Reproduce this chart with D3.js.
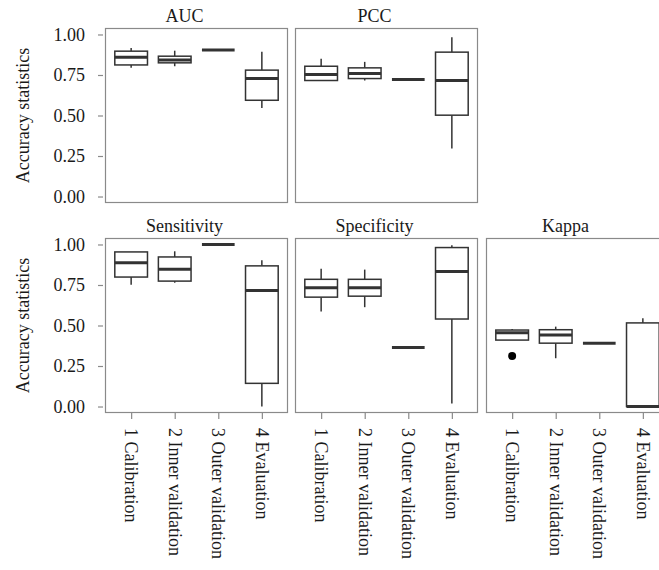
<!DOCTYPE html>
<html>
<head>
<meta charset="utf-8">
<script src="https://cdn.jsdelivr.net/npm/d3@7"></script>
<style>
  html, body { margin: 0; padding: 0; background: #fff; overflow: hidden; }
  svg { display: block; }
  text { font-family: "Liberation Serif", "Times New Roman", serif; fill: #1a1a1a; }
</style>
</head>
<body>
<svg id="chart" width="659" height="570"></svg>
<script>
// ---- data ----
const categories = ["1 Calibration", "2 Inner validation", "3 Outer validation", "4 Evaluation"];
const panelNames = ["AUC", "PCC", "Sensitivity", "Specificity", "Kappa"];
const yTicks = [0, 0.25, 0.5, 0.75, 1.0];
const yTickLabels = ["0.00", "0.25", "0.50", "0.75", "1.00"];
// each entry: [whiskerLow, q1, median, q3, whiskerHigh]
const aucStats = [[0.794, 0.812, 0.860, 0.897, 0.917], [0.804, 0.825, 0.842, 0.866, 0.900], [0.905, 0.905, 0.905, 0.905, 0.905], [0.547, 0.594, 0.728, 0.780, 0.893]];
const pccStats = [[0.716, 0.716, 0.753, 0.804, 0.850], [0.716, 0.728, 0.759, 0.794, 0.831], [0.722, 0.722, 0.722, 0.722, 0.722], [0.296, 0.502, 0.716, 0.891, 0.983]];
const sensStats = [[0.752, 0.799, 0.888, 0.954, 0.954], [0.764, 0.774, 0.847, 0.923, 0.958], [1.000, 1.000, 1.000, 1.000, 1.000], [0.000, 0.143, 0.716, 0.868, 0.903]];
const specStats = [[0.586, 0.675, 0.733, 0.785, 0.851], [0.613, 0.681, 0.733, 0.785, 0.845], [0.364, 0.364, 0.364, 0.364, 0.364], [0.019, 0.540, 0.834, 0.981, 0.996]];
const kappaStats = [[0.410, 0.410, 0.455, 0.472, 0.478], [0.298, 0.391, 0.441, 0.474, 0.493], [0.390, 0.390, 0.390, 0.390, 0.390], [0.000, 0.000, 0.000, 0.516, 0.545]];
const kappaOutliers = [[0.312], [], [], []];
const yTitle = "Accuracy statistics";

// ---- layout ----
const svg = d3.select("#chart");
const colX = [105, 295, 486];
const panelW = 183;
const rowY = [28, 238];
const panelH = 175;
const fontSize = 18;
const boxColor = "#333333";
const borderColor = "#8a8a8a";

const panels = [
  { name: panelNames[0], stats: aucStats, outliers: [[], [], [], []], col: 0, row: 0 },
  { name: panelNames[1], stats: pccStats, outliers: [[], [], [], []], col: 1, row: 0 },
  { name: panelNames[2], stats: sensStats, outliers: [[], [], [], []], col: 0, row: 1 },
  { name: panelNames[3], stats: specStats, outliers: [[], [], [], []], col: 1, row: 1 },
  { name: panelNames[4], stats: kappaStats, outliers: kappaOutliers, col: 2, row: 1 }
];

// y axis titles and tick labels for each row
rowY.forEach(top => {
  const y = d3.scaleLinear().domain([-0.04, 1.04]).range([top + panelH, top]);
  const g = svg.append("g").attr("transform", `translate(${colX[0] - 2},0)`);
  const ax = d3.axisLeft(y).tickValues(yTicks).tickFormat((d, i) => yTickLabels[i]).tickSize(5).tickPadding(13);
  g.call(ax);
  g.select(".domain").remove();
  g.selectAll(".tick line").attr("stroke", borderColor).attr("stroke-width", 1.2);
  g.selectAll(".tick text").style("font-family", '"Liberation Serif", serif').style("font-size", fontSize + "px").attr("fill", "#1a1a1a");
  svg.append("text")
    .attr("transform", `translate(29,${top + panelH / 2}) rotate(-90)`)
    .attr("text-anchor", "middle")
    .style("font-size", fontSize + "px")
    .text(yTitle);
});

panels.forEach(p => {
  const x0 = colX[p.col], top = rowY[p.row];
  const x = d3.scalePoint().domain(categories).range([x0, x0 + panelW]).padding(0.6);
  const y = d3.scaleLinear().domain([-0.04, 1.04]).range([top + panelH, top]);
  const bw = x.step() * 0.75;
  const g = svg.append("g");

  // strip title
  svg.append("text")
    .attr("x", x0 + panelW / 2 - 12)
    .attr("y", top - 6.5)
    .attr("text-anchor", "middle")
    .style("font-size", fontSize + "px")
    .text(p.name);

  categories.forEach((c, i) => {
    const s = p.stats[i];
    const cx = x(c);
    // whiskers
    g.append("line").attr("x1", cx).attr("x2", cx).attr("y1", y(s[3])).attr("y2", y(s[4]))
      .attr("stroke", boxColor).attr("stroke-width", 1.5);
    g.append("line").attr("x1", cx).attr("x2", cx).attr("y1", y(s[1])).attr("y2", y(s[0]))
      .attr("stroke", boxColor).attr("stroke-width", 1.5);
    // box
    g.append("rect").attr("x", cx - bw / 2).attr("width", bw)
      .attr("y", y(s[3])).attr("height", Math.max(0, y(s[1]) - y(s[3])))
      .attr("fill", "#fff").attr("stroke", boxColor).attr("stroke-width", 1.5);
    // median
    g.append("line").attr("x1", cx - bw / 2).attr("x2", cx + bw / 2).attr("y1", y(s[2])).attr("y2", y(s[2]))
      .attr("stroke", boxColor).attr("stroke-width", 3);
    // outliers
    p.outliers[i].forEach(v => {
      g.append("circle").attr("cx", cx).attr("cy", y(v)).attr("r", 4).attr("fill", "#000");
    });
  });

  // panel border
  svg.append("rect").attr("x", x0 + 0.5).attr("y", top + 0.5).attr("width", panelW - 1).attr("height", panelH - 1)
    .attr("fill", "none").attr("stroke", borderColor).attr("stroke-width", 1.2);

  // x axis for bottom row
  if (p.row === 1) {
    const ga = svg.append("g").attr("transform", `translate(0,${top + panelH})`);
    ga.call(d3.axisBottom(x).tickSize(6).tickPadding(9));
    ga.select(".domain").remove();
    ga.selectAll(".tick line").attr("stroke", borderColor).attr("stroke-width", 1.2);
    ga.selectAll(".tick text")
      .style("font-family", '"Liberation Serif", serif')
      .style("font-size", fontSize + "px")
      .attr("fill", "#1a1a1a")
      .attr("text-anchor", "start")
      .attr("dy", "0.35em")
      .attr("x", 0)
      .attr("y", 0)
      .attr("transform", "translate(0,15) rotate(90)");
  }
});
</script>
</body>
</html>
